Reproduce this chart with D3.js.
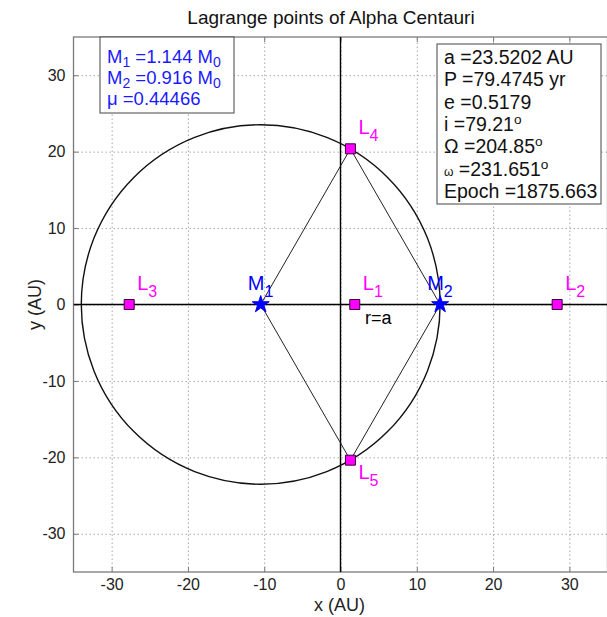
<!DOCTYPE html>
<html>
<head>
<meta charset="utf-8">
<script src="https://cdn.jsdelivr.net/npm/d3@7"></script>
<style>
  html, body { margin: 0; padding: 0; background: #fff; }
  svg { display: block; font-family: "Liberation Sans", Arial, sans-serif; }
</style>
</head>
<body>
<div id="chart"></div>
<script>
// ---- data -------------------------------------------------------------
const xTicks = [-30, -20, -10, 0, 10, 20, 30];
const yTicks = [-30, -20, -10, 0, 10, 20, 30];
const xDomain = [-35, 35];
const yDomain = [-35, 35];

// the two stars (barycentre at the origin)
const bodyNames = ["M", "M"];
const bodySubs = ["1", "2"];
const bodyX = [-10.46, 13.06];
const bodyY = [0, 0];

// Lagrange points
const lagNames = ["L", "L", "L", "L", "L"];
const lagSubs = ["1", "2", "3", "4", "5"];
const lagX = [1.87, 28.4, -27.7, 1.30, 1.30];
const lagY = [0, 0, 0, 20.37, -20.37];

// orbit of radius a around M1
const orbitCenter = [-10.46, 0];
const orbitRadius = 23.52;

// information boxes
const massLines = [
  [["M", null], ["1", "sub"], [" =1.144 M", null], ["0", "sub"]],
  [["M", null], ["2", "sub"], [" =0.916 M", null], ["0", "sub"]],
  [["\u03bc =0.44466", null]]
];
const orbitLines = [
  [["a =23.5202 AU", null]],
  [["P =79.4745 yr", null]],
  [["e =0.5179", null]],
  [["i =79.21", null], ["o", "sup"]],
  [["\u03a9 =204.85", null], ["o", "sup"]],
  [["\u03c9", "small"], [" =231.651", null], ["o", "sup"]],
  [["Epoch =1875.663", null]]
];

// ---- layout -----------------------------------------------------------
const W = 607, H = 617;
const plot = { left: 73.5, right: 607.5, top: 37, bottom: 572 };

const svg = d3.select("#chart").append("svg")
  .attr("width", W).attr("height", H);

const x = d3.scaleLinear().domain(xDomain).range([plot.left, plot.right]);
const y = d3.scaleLinear().domain(yDomain).range([plot.bottom, plot.top]);

const pw = plot.right - plot.left, ph = plot.bottom - plot.top;

svg.append("defs").append("clipPath").attr("id", "clip")
  .append("rect").attr("x", plot.left).attr("y", plot.top)
  .attr("width", pw).attr("height", ph);

// ---- grid -------------------------------------------------------------
const grid = svg.append("g").attr("class", "grid");
grid.append("g")
  .attr("transform", `translate(0,${plot.bottom})`)
  .call(d3.axisBottom(x).tickValues(xTicks).tickSize(-ph).tickFormat(""));
grid.append("g")
  .attr("transform", `translate(${plot.left},0)`)
  .call(d3.axisLeft(y).tickValues(yTicks).tickSize(-pw).tickFormat(""));
grid.selectAll(".domain").remove();
grid.selectAll("line")
  .attr("stroke", "#a8a8a8").attr("stroke-width", 1)
  .attr("stroke-dasharray", "1.5,2.5");

// ---- axes frame -------------------------------------------------------
const frameColor = "#7a7a7a";
svg.append("rect")
  .attr("x", plot.left).attr("y", plot.top)
  .attr("width", pw).attr("height", ph)
  .attr("fill", "none").attr("stroke", frameColor).attr("stroke-width", 1.3);

function styleAxis(g) {
  g.select(".domain").remove();
  g.selectAll(".tick line").attr("stroke", frameColor).attr("stroke-width", 1);
  g.selectAll(".tick text")
    .attr("fill", "#222").attr("font-size", 16)
    .attr("font-family", "Liberation Sans, Arial, sans-serif");
}
const fmt = d => String(d);

svg.append("g")
  .attr("transform", `translate(0,${plot.bottom})`)
  .call(d3.axisBottom(x).tickValues(xTicks).tickSize(-5).tickPadding(7).tickFormat(fmt))
  .call(styleAxis);
svg.append("g")
  .attr("transform", `translate(0,${plot.top})`)
  .call(d3.axisTop(x).tickValues(xTicks).tickSize(-5).tickFormat(""))
  .call(styleAxis);
svg.append("g")
  .attr("transform", `translate(${plot.left},0)`)
  .call(d3.axisLeft(y).tickValues(yTicks).tickSize(-5).tickPadding(8).tickFormat(fmt))
  .call(styleAxis);

// ---- plot content -----------------------------------------------------
const body = svg.append("g").attr("clip-path", "url(#clip)");

// coordinate axes through the origin
body.append("line")
  .attr("x1", plot.left).attr("x2", plot.right)
  .attr("y1", y(0)).attr("y2", y(0))
  .attr("stroke", "#000").attr("stroke-width", 1.4);
body.append("line")
  .attr("x1", x(0)).attr("x2", x(0))
  .attr("y1", plot.top).attr("y2", plot.bottom)
  .attr("stroke", "#000").attr("stroke-width", 1.4);

// orbit circle r = a around M1
body.append("ellipse")
  .attr("cx", x(orbitCenter[0])).attr("cy", y(orbitCenter[1]))
  .attr("rx", x(orbitRadius) - x(0)).attr("ry", y(0) - y(orbitRadius))
  .attr("fill", "none").attr("stroke", "#111").attr("stroke-width", 1.4);

// equilateral triangles M1-L4-M2 and M1-L5-M2
const rhombus = [
  [bodyX[0], bodyY[0]], [lagX[3], lagY[3]],
  [bodyX[1], bodyY[1]], [lagX[4], lagY[4]],
  [bodyX[0], bodyY[0]]
];
body.append("path")
  .attr("d", d3.line().x(d => x(d[0])).y(d => y(d[1]))(rhombus))
  .attr("fill", "none").attr("stroke", "#222").attr("stroke-width", 1);

// Lagrange point markers
body.selectAll(".lag").data(lagX).join("path")
  .attr("class", "lag")
  .attr("transform", (d, i) => `translate(${x(d)},${y(lagY[i])})`)
  .attr("d", d3.symbol(d3.symbolSquare, 100)())
  .attr("fill", "#ff00ff").attr("stroke", "#3a003a").attr("stroke-width", 1);

// stars
body.selectAll(".star").data(bodyX).join("path")
  .attr("class", "star")
  .attr("transform", (d, i) => `translate(${x(d)},${y(bodyY[i])})`)
  .attr("d", d3.symbol(d3.symbolStar, 90)())
  .attr("fill", "#0000ff").attr("stroke", "#0000ff").attr("stroke-width", 1);

// ---- labels with subscripts -------------------------------------------
function labelled(g, px, py, main, sub, color, size) {
  const t = g.append("text")
    .attr("x", px).attr("y", py)
    .attr("fill", color).attr("font-size", size);
  t.append("tspan").text(main);
  t.append("tspan").attr("font-size", size * 0.8).attr("dy", 7).text(sub);
  return t;
}

const labels = svg.append("g");
lagX.forEach((d, i) => {
  const below = lagY[i] < 0;
  labelled(labels, x(d) + 8, y(lagY[i]) + (below ? 19 : -15),
    lagNames[i], lagSubs[i], "#ff00ff", 20);
});
bodyX.forEach((d, i) => {
  labelled(labels, x(d) - 13, y(bodyY[i]) - 15,
    bodyNames[i], bodySubs[i], "#0000ff", 20);
});
labels.append("text")
  .attr("x", x(3.2)).attr("y", y(-2.5))
  .attr("fill", "#000").attr("font-size", 18)
  .text("r=a");

// ---- information boxes ------------------------------------------------
function infoBox(bx, by, bw, bh, lines, color, size, lineH, firstBase, subDy) {
  svg.append("rect")
    .attr("x", bx).attr("y", by).attr("width", bw).attr("height", bh)
    .attr("fill", "#fff").attr("stroke", "#444").attr("stroke-width", 1);
  lines.forEach((parts, li) => {
    const t = svg.append("text")
      .attr("x", bx + 7).attr("y", by + firstBase + li * lineH)
      .attr("fill", color).attr("font-size", size);
    let shift = 0;
    parts.forEach(([str, kind]) => {
      const s = t.append("tspan").text(str);
      if (kind === "sub") { s.attr("font-size", size * 0.76).attr("dy", subDy - shift); shift = subDy; }
      else if (kind === "sup") { s.attr("font-size", size * 0.7).attr("dy", -7 - shift); shift = -7; }
      else if (kind === "small") { s.attr("font-size", size * 0.62); }
      else if (shift !== 0) { s.attr("dy", -shift); shift = 0; }
    });
  });
}

infoBox(100, plot.top, 134, 76, massLines, "#1a1aff", 18.5, 21, 26, 4);
infoBox(437, 44, 164, 160, orbitLines, "#111", 19.5, 22.3, 20);

// ---- titles -----------------------------------------------------------
svg.append("text")
  .attr("x", 331).attr("y", 24)
  .attr("text-anchor", "middle").attr("font-size", 19).attr("fill", "#111")
  .text("Lagrange points of Alpha Centauri");
svg.append("text")
  .attr("x", (plot.left + plot.right) / 2 - 1).attr("y", 611)
  .attr("text-anchor", "middle").attr("font-size", 18).attr("fill", "#222")
  .text("x (AU)");
svg.append("text")
  .attr("transform", `translate(41,${y(0)}) rotate(-90)`)
  .attr("text-anchor", "middle").attr("font-size", 18).attr("fill", "#222")
  .text("y (AU)");
</script>
</body>
</html>
